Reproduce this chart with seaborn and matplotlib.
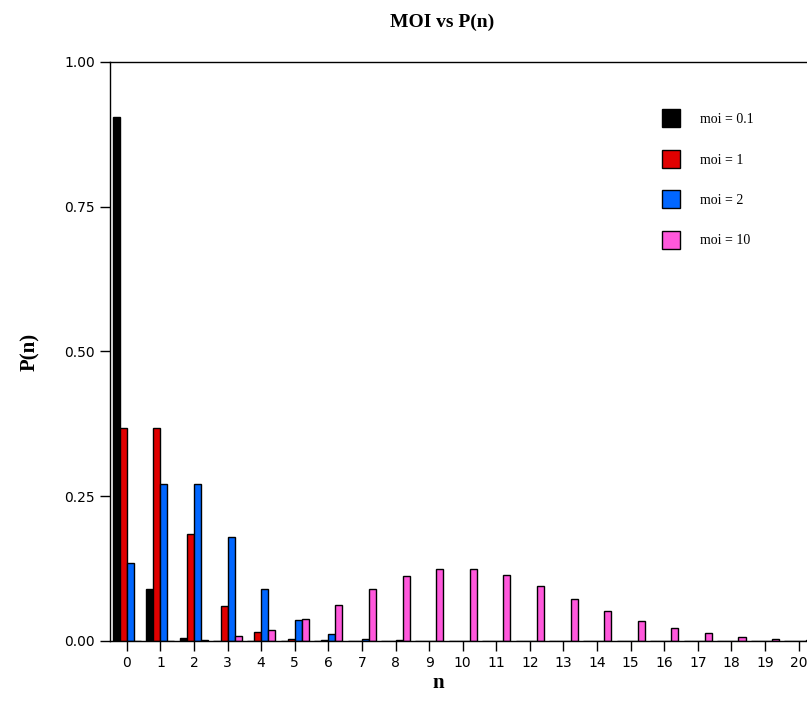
import matplotlib
matplotlib.use("Agg")
import matplotlib.pyplot as plt
from matplotlib.lines import Line2D
import seaborn as sns
import pandas as pd

n_values = list(range(21))
series_labels = ["moi = 0.1", "moi = 1", "moi = 2", "moi = 10"]
p_moi_01 = [0.905, 0.090, 0.005, 0.000, 0.000, 0.000, 0.000, 0.000, 0.000, 0.000,
            0.000, 0.000, 0.000, 0.000, 0.000, 0.000, 0.000, 0.000, 0.000, 0.000, 0.000]
p_moi_1 = [0.368, 0.368, 0.184, 0.061, 0.015, 0.003, 0.001, 0.000, 0.000, 0.000,
           0.000, 0.000, 0.000, 0.000, 0.000, 0.000, 0.000, 0.000, 0.000, 0.000, 0.000]
p_moi_2 = [0.135, 0.271, 0.271, 0.180, 0.090, 0.036, 0.012, 0.003, 0.001, 0.000,
           0.000, 0.000, 0.000, 0.000, 0.000, 0.000, 0.000, 0.000, 0.000, 0.000, 0.000]
p_moi_10 = [0.000, 0.000, 0.002, 0.008, 0.019, 0.038, 0.063, 0.090, 0.113, 0.125,
            0.125, 0.114, 0.095, 0.073, 0.052, 0.035, 0.022, 0.013, 0.007, 0.004, 0.002]
colors = ["#000000", "#e00000", "#0066ff", "#ff58dc"]

rows = []
for lab, vals in zip(series_labels, [p_moi_01, p_moi_1, p_moi_2, p_moi_10]):
    for n, v in zip(n_values, vals):
        rows.append({"n": n, "P": v, "series": lab})
df = pd.DataFrame(rows)

sns.set_style("ticks")
plt.rcParams["text.color"] = "black"
plt.rcParams["xtick.labelcolor"] = "black"
plt.rcParams["ytick.labelcolor"] = "black"
fig = plt.figure(figsize=(8.07, 7.2), dpi=100)
ax = fig.add_axes([110 / 807, 79 / 720, 697 / 807, 579 / 720])

sns.barplot(data=df, x="n", y="P", hue="series", order=n_values,
            hue_order=series_labels, palette=colors, saturation=1,
            errorbar=None, edgecolor="black", linewidth=1, width=0.84,
            legend=False, ax=ax)

ax.set_xlim(-0.5, 20.25)
ax.set_ylim(0, 1.0)
ax.set_yticks([0, 0.25, 0.5, 0.75, 1.0])
ax.set_yticklabels(["0.00", "0.25", "0.50", "0.75", "1.00"])
ax.set_xticks(range(21))
ax.set_xticklabels([str(v) for v in n_values])
ax.tick_params(axis="both", direction="out", length=7, width=1, color="black",
               labelsize=10, pad=4, labelcolor="black")
for lbl in ax.get_xticklabels() + ax.get_yticklabels():
    lbl.set_fontfamily("DejaVu Sans")
ax.spines["right"].set_visible(False)
for s in ["left", "bottom", "top"]:
    ax.spines[s].set_color("black")
    ax.spines[s].set_linewidth(1)

ax.set_xlabel("")
ax.set_ylabel("")
fig.text(438 / 807, 1 - 683 / 720, "n", ha="center", va="center", color="black",
         fontfamily="Liberation Serif", fontweight="bold", fontsize=15)
fig.text(30 / 807, 1 - 352 / 720, "P(n)", ha="center", va="center", rotation=90,
         color="black", fontfamily="Liberation Serif", fontweight="bold", fontsize=15)
fig.text(442 / 807, 1 - 22 / 720, "MOI vs P(n)", ha="center", va="center",
         color="black", fontfamily="Liberation Serif", fontweight="bold", fontsize=14)

handles = [Line2D([0], [0], marker="s", linestyle="none", markersize=12.5,
                  markerfacecolor=c, markeredgecolor="black", markeredgewidth=1)
           for c in colors]
leg = ax.legend(handles, series_labels, loc="upper left",
                bbox_to_anchor=(664 / 807, 1 - 113 / 720), bbox_transform=fig.transFigure,
                frameon=False, fontsize=10, labelspacing=1.98, handlelength=1.0,
                handletextpad=1.6, borderpad=0, borderaxespad=0)
for t in leg.get_texts():
    t.set_fontfamily("Liberation Serif")
    t.set_color("black")

fig.savefig("out.png", dpi=100)
